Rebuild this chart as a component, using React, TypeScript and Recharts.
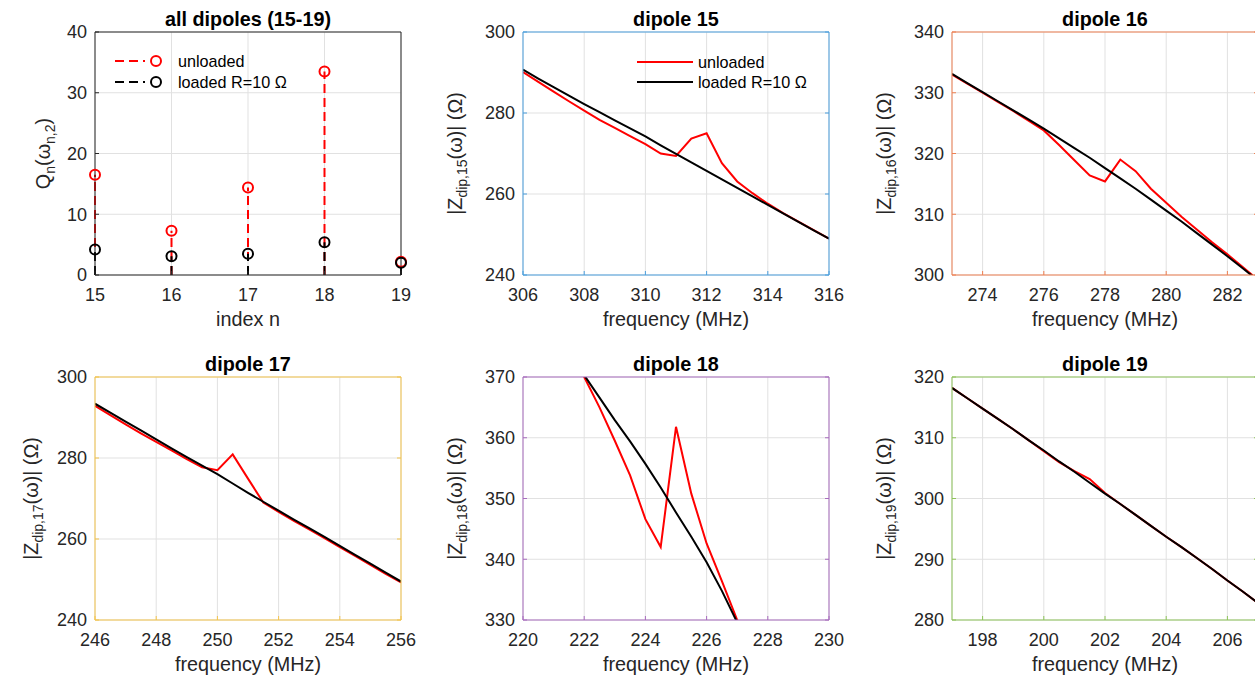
import React from "react";
import { ComposedChart, Line, Scatter, XAxis, YAxis, CartesianGrid } from "recharts";

// Q of each dipole mode (left panel)
const indexN = [15, 16, 17, 18, 19];
const qUnloaded = [16.5, 7.3, 14.4, 33.5, 2.2];
const qLoaded = [4.2, 3.1, 3.5, 5.4, 2.0];
const qTicksX = [15, 16, 17, 18, 19];
const qTicksY = [0, 10, 20, 30, 40];

// |Z| around each resonance (MHz, Ohm)
const freq15 = [306, 306.5, 307, 307.5, 308, 308.5, 309, 309.5, 310, 310.5, 311, 311.5, 312, 312.5, 313, 313.5, 314, 314.5, 315, 315.5, 316];
const unloaded15 = [290.1, 287.7, 285.3, 282.9, 280.6, 278.3, 276.3, 274.3, 272.3, 270.0, 269.4, 273.7, 275.0, 267.6, 263.1, 260.2, 257.6, 255.3, 253.2, 251.1, 249.0];
const loaded15 = [290.7, 288.5, 286.4, 284.3, 282.2, 280.2, 278.2, 276.2, 274.2, 272.0, 269.9, 267.8, 265.7, 263.6, 261.5, 259.4, 257.3, 255.2, 253.1, 251.0, 249.0];

const freq16 = [273, 273.5, 274, 274.5, 275, 275.5, 276, 276.5, 277, 277.5, 278, 278.5, 279, 279.5, 280, 280.5, 281, 281.5, 282, 282.5, 283];
const unloaded16 = [333.0, 331.5, 330.0, 328.5, 327.0, 325.4, 323.8, 321.4, 318.9, 316.4, 315.4, 319.0, 317.1, 314.2, 311.9, 309.6, 307.5, 305.4, 303.4, 301.3, 299.2];
const loaded16 = [333.1, 331.6, 330.1, 328.6, 327.1, 325.6, 324.1, 322.5, 320.9, 319.3, 317.6, 315.9, 314.2, 312.4, 310.6, 308.8, 306.9, 305.0, 303.1, 301.1, 299.1];

const freq17 = [246, 246.5, 247, 247.5, 248, 248.5, 249, 249.5, 250, 250.5, 251, 251.5, 252, 252.5, 253, 253.5, 254, 254.5, 255, 255.5, 256];
const unloaded17 = [292.9, 290.6, 288.3, 286.1, 284.0, 281.9, 279.7, 277.7, 277.0, 280.9, 274.9, 269.0, 266.7, 264.5, 262.4, 260.2, 258.0, 255.8, 253.6, 251.4, 249.3];
const loaded17 = [293.4, 291.2, 289.0, 286.8, 284.6, 282.4, 280.2, 278.1, 276.0, 273.7, 271.4, 269.2, 267.0, 264.8, 262.7, 260.5, 258.3, 256.1, 253.9, 251.7, 249.5];

const freq18 = [221.5, 222, 222.5, 223, 223.5, 224, 224.5, 225, 225.5, 226, 226.5, 227, 227.5];
const unloaded18 = [375.0, 370.0, 365.0, 359.5, 353.8, 346.6, 342.0, 361.8, 350.8, 342.6, 336.4, 330.0, 324.0];
const loaded18 = [374.2, 370.3, 366.6, 362.9, 359.4, 355.7, 351.8, 347.7, 343.7, 339.5, 334.8, 329.6, 324.2];

const freq19 = [197, 197.5, 198, 198.5, 199, 199.5, 200, 200.5, 201, 201.5, 202, 202.5, 203, 203.5, 204, 204.5, 205, 205.5, 206, 206.5, 207];
const unloaded19 = [318.2, 316.5, 314.8, 313.1, 311.4, 309.6, 307.8, 306.0, 304.5, 303.2, 300.9, 299.1, 297.3, 295.5, 293.7, 292.0, 290.2, 288.4, 286.5, 284.7, 282.8];
const loaded19 = [318.2, 316.5, 314.8, 313.1, 311.4, 309.6, 307.9, 306.1, 304.4, 302.6, 300.8, 299.1, 297.3, 295.5, 293.7, 292.0, 290.2, 288.4, 286.5, 284.7, 282.8];

const FONT = '"Liberation Sans", Arial, Helvetica, sans-serif';
const TXT = "#262626";
const RED = "#ff0000";
const BLACK = "#000000";

// plot-area geometry
const PW = 306;
const PH = 243;
const ML = 100;
const MT = 40;
const MR = 30;
const MB = 60;

function frame(color: string, xKey: string, xd: number[], xt: number[], yKey: string | undefined, yd: number[], yt: number[], clip: boolean) {
  const line = { stroke: color, strokeWidth: 1 };
  const tick = { fill: TXT, fontSize: 18, fontFamily: FONT };
  return [
    <CartesianGrid key="g" stroke="#e1e1e1" strokeWidth={1} />,
    <XAxis key="xb" dataKey={xKey} type="number" domain={xd} ticks={xt} allowDataOverflow={clip} interval={0}
      height={MB} axisLine={line} tickLine={line} tickSize={-4} tickMargin={17} tick={tick} />,
    <YAxis key="yl" dataKey={yKey} type="number" domain={yd} ticks={yt} allowDataOverflow={clip} interval={0}
      width={ML} axisLine={line} tickLine={line} tickSize={-4} tickMargin={12} tick={tick} />,
    <XAxis key="xt" xAxisId="top" orientation="top" type="number" domain={xd} ticks={xt} allowDataOverflow={clip} interval={0}
      height={1} axisLine={line} tickLine={line} tickSize={-4} tickFormatter={() => ""} />,
    <YAxis key="yr" yAxisId="right" orientation="right" type="number" domain={yd} ticks={yt} allowDataOverflow={clip} interval={0}
      width={1} axisLine={line} tickLine={line} tickSize={-4} tickFormatter={() => ""} />,
  ];
}

const ring = (c: string) => (p: any) => (
  <circle cx={p.cx} cy={p.cy} r={5} fill="none" stroke={c} strokeWidth={2} />
);

const chartMargin = { top: MT - 1, right: MR - 1, bottom: 0, left: 0 };

function QPanel({ left, top }: { left: number; top: number }) {
  const up = indexN.map((n, i) => ({ n, q: qUnloaded[i] }));
  const lp = indexN.map((n, i) => ({ n, q: qLoaded[i] }));
  return (
    <div style={{ position: "absolute", left: left - ML, top: top - MT }}>
      <ComposedChart width={ML + PW + MR} height={MT + PH + MB} margin={chartMargin}>
        {frame(TXT, "n", [15, 19], qTicksX, "q", [0, 40], qTicksY, false)}
        {indexN.map((n, i) => (
          <Line key={"su" + n} data={[{ n, q: 0 }, { n, q: qUnloaded[i] }]} dataKey="q" type="linear"
            stroke={RED} strokeWidth={2} strokeDasharray="9 5" dot={false} activeDot={false} isAnimationActive={false} />
        ))}
        <Scatter data={up} dataKey="q" shape={ring(RED)} isAnimationActive={false} />
        {indexN.map((n, i) => (
          <Line key={"sl" + n} data={[{ n, q: 0 }, { n, q: qLoaded[i] }]} dataKey="q" type="linear"
            stroke={BLACK} strokeWidth={2} strokeDasharray="9 5" dot={false} activeDot={false} isAnimationActive={false} />
        ))}
        <Scatter data={lp} dataKey="q" shape={ring(BLACK)} isAnimationActive={false} />
      </ComposedChart>
    </div>
  );
}

interface ZProps {
  left: number;
  top: number;
  color: string;
  freq: number[];
  unloaded: number[];
  loaded: number[];
  xd: number[];
  xt: number[];
  yd: number[];
  yt: number[];
}

function ZPanel({ left, top, color, freq, unloaded, loaded, xd, xt, yd, yt }: ZProps) {
  const rows = freq.map((f, i) => ({ f, u: unloaded[i], l: loaded[i] }));
  return (
    <div style={{ position: "absolute", left: left - ML, top: top - MT }}>
      <ComposedChart width={ML + PW + MR} height={MT + PH + MB} data={rows} margin={chartMargin}>
        {frame(color, "f", xd, xt, undefined, yd, yt, true)}
        <Line dataKey="u" type="linear" stroke={RED} strokeWidth={2} dot={false} activeDot={false} isAnimationActive={false} />
        <Line dataKey="l" type="linear" stroke={BLACK} strokeWidth={2} dot={false} activeDot={false} isAnimationActive={false} />
      </ComposedChart>
    </div>
  );
}

const panels = [
  { left: 523, top: 32, color: "#4a9fde", dip: "15", freq: freq15, unloaded: unloaded15, loaded: loaded15, xd: [306, 316], xt: [306, 308, 310, 312, 314, 316], yd: [240, 300], yt: [240, 260, 280, 300], gap: 61.5 },
  { left: 952, top: 32, color: "#ef8052", dip: "16", freq: freq16, unloaded: unloaded16, loaded: loaded16, xd: [273, 283], xt: [274, 276, 278, 280, 282], yd: [300, 340], yt: [300, 310, 320, 330, 340], gap: 61.5 },
  { left: 95, top: 377, color: "#f4c44a", dip: "17", freq: freq17, unloaded: unloaded17, loaded: loaded17, xd: [246, 256], xt: [246, 248, 250, 252, 254, 256], yd: [240, 300], yt: [240, 260, 280, 300], gap: 57.5 },
  { left: 523, top: 377, color: "#a86cbe", dip: "18", freq: freq18, unloaded: unloaded18, loaded: loaded18, xd: [220, 230], xt: [220, 222, 224, 226, 228, 230], yd: [330, 370], yt: [330, 340, 350, 360, 370], gap: 61.5 },
  { left: 952, top: 377, color: "#8ec45a", dip: "19", freq: freq19, unloaded: unloaded19, loaded: loaded19, xd: [197, 207], xt: [198, 200, 202, 204, 206], yd: [280, 320], yt: [280, 290, 300, 310, 320], gap: 61.5 },
];

function Texts() {
  const big = 19.8;
  const leg = 16.2;
  const cx = (l: number) => l + PW / 2;
  const cy = (t: number) => t + PH / 2;
  return (
    <svg width={1255} height={680} style={{ position: "absolute", left: 0, top: 0, pointerEvents: "none" }} fontFamily={FONT}>
      {/* left panel */}
      <text x={cx(95)} y={26} textAnchor="middle" fontWeight="bold" fontSize={big} fill="#000">all dipoles (15-19)</text>
      <text x={cx(95)} y={32 + PH + 51} textAnchor="middle" fontSize={big} fill={TXT}>index n</text>
      <text transform={`translate(${95 - 45},${cy(32)}) rotate(-90)`} textAnchor="middle" fontSize={big} fill={TXT}>
        <tspan>Q</tspan>
        <tspan dy={5} fontSize={14}>n</tspan>
        <tspan dy={-5}>(ω</tspan>
        <tspan dy={5} fontSize={14}>n,2</tspan>
        <tspan dy={-5}>)</tspan>
      </text>
      <line x1={115} y1={61} x2={145} y2={61} stroke={RED} strokeWidth={2} strokeDasharray="9 5" />
      <circle cx={156} cy={61} r={5} fill="none" stroke={RED} strokeWidth={2} />
      <text x={178} y={61 + 5.8} fontSize={leg} fill="#000">unloaded</text>
      <line x1={115} y1={82} x2={145} y2={82} stroke={BLACK} strokeWidth={2} strokeDasharray="9 5" />
      <circle cx={156} cy={82} r={5} fill="none" stroke={BLACK} strokeWidth={2} />
      <text x={178} y={82 + 5.8} fontSize={leg} fill="#000">loaded R=10 Ω</text>

      {panels.map((p) => (
        <g key={p.dip}>
          <text x={cx(p.left)} y={p.top - 6} textAnchor="middle" fontWeight="bold" fontSize={big} fill="#000">dipole {p.dip}</text>
          <text x={cx(p.left)} y={p.top + PH + 51} textAnchor="middle" fontSize={big} fill={TXT}>frequency (MHz)</text>
          <text transform={`translate(${p.left - p.gap},${cy(p.top)}) rotate(-90)`} textAnchor="middle" fontSize={big} fill={TXT}>
            <tspan>|Z</tspan>
            <tspan dy={5} fontSize={14}>dip,{p.dip}</tspan>
            <tspan dy={-5}>(ω)| (Ω)</tspan>
          </text>
        </g>
      ))}

      {/* legend of dipole 15 */}
      <line x1={637} y1={62} x2={693} y2={62} stroke={RED} strokeWidth={2} />
      <text x={698} y={62 + 5.8} fontSize={leg} fill="#000">unloaded</text>
      <line x1={637} y1={82} x2={693} y2={82} stroke={BLACK} strokeWidth={2} />
      <text x={698} y={82 + 5.8} fontSize={leg} fill="#000">loaded R=10 Ω</text>
    </svg>
  );
}

export default function App() {
  return (
    <div style={{ position: "absolute", left: 0, top: 0, width: 1255, height: 680, overflow: "hidden", background: "#fff", fontFamily: FONT }}>
      <QPanel left={95} top={32} />
      {panels.map((p) => (
        <ZPanel key={p.dip} left={p.left} top={p.top} color={p.color} freq={p.freq} unloaded={p.unloaded} loaded={p.loaded}
          xd={p.xd} xt={p.xt} yd={p.yd} yt={p.yt} />
      ))}
      <Texts />
    </div>
  );
}
